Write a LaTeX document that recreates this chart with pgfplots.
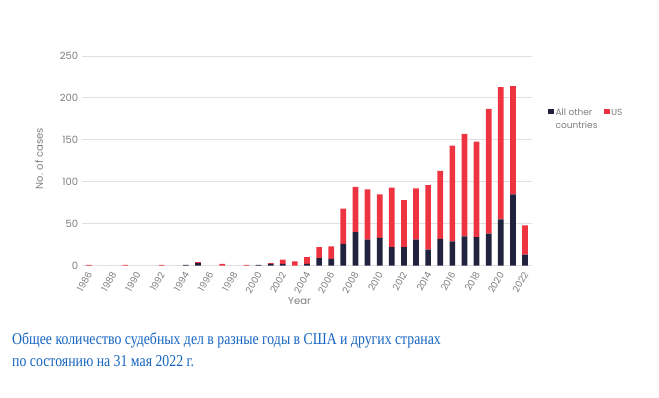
\documentclass[border=0pt]{standalone}
\usepackage{pgfplots}
\pgfplotsset{compat=1.18}
\usepackage{pgfplotstable}
\usepackage{fontspec}
\setmainfont{Poppins}
\newfontfamily\capfont{Liberation Serif}
\definecolor{navy}{HTML}{22223F}
\definecolor{usred}{HTML}{EE3440}
\definecolor{txtgrey}{HTML}{7E7E7E}
\definecolor{gridgrey}{HTML}{E0E0E0}
\definecolor{capblue}{HTML}{1464C0}
\pgfplotstableread{
year other us
1986 0 1
1987 0 0
1988 0 0
1989 0 1
1990 0 0
1991 0 0
1992 0 1
1993 0 0
1994 1 0
1995 3 1
1996 0 0
1997 0 2
1998 0 0
1999 0 1
2000 1 0
2001 2 1
2002 2 5
2003 0 5
2004 2 8
2005 9 13
2006 8 15
2007 26 42
2008 40 54
2009 31 60
2010 33 52
2011 22 71
2012 22 56
2013 31 61
2014 19 77
2015 32 81
2016 29 114
2017 35 122
2018 34 114
2019 38 149
2020 55 158
2021 85 129
2022 13 35
}\datatable
\begin{document}
\begin{tikzpicture}
\path[use as bounding box] (0pt,0pt) rectangle (659pt,397pt);
\begin{axis}[
  at={(81.7pt,131.4pt)}, anchor=south west,
  scale only axis, width=450pt, height=209.6pt,
  ybar stacked, bar width=5.7pt,
  xmin=1985.4, xmax=2022.55, ymin=0, ymax=250,
  axis line style={draw=none},
  tick style={draw=none},
  ytick={0,50,100,150,200,250},
  xtick={1986,1988,...,2022},
  x tick label style={xshift=2.5pt, yshift=-4pt, rotate=60, anchor=east, font=\fontsize{9.3}{10}\selectfont, text=txtgrey, /pgf/number format/1000 sep={}},
  y tick label style={font=\fontsize{10}{11}\selectfont, text=txtgrey},
  /pgf/number format/assume math mode=true,
  ymajorgrids, grid style={gridgrey, line width=0.9pt},
  xlabel={Year}, ylabel={No. of cases},
  every axis x label/.style={at={(axis description cs:0.484,0)}, yshift=-35.8pt, anchor=center, font=\fontsize{10}{11}\selectfont, text=txtgrey},
  every axis y label/.style={at={(axis description cs:0,0.51)}, xshift=-42.7pt, rotate=90, anchor=center, font=\fontsize{10}{11}\selectfont, text=txtgrey},
  legend style={at={(axis description cs:1.030,0.779)}, anchor=north west, draw=none, fill=none, legend columns=2, font=\fontsize{9}{13.5}\selectfont, text=txtgrey, /tikz/every even column/.style={column sep=5pt}, nodes={inner sep=1.5pt}},
  legend cell align=left,
  legend style={cells={anchor=base west}},
  legend image code/.code={\fill[#1] (0pt,1pt) rectangle (5.7pt,6.7pt);},
]
\addplot[fill=navy, draw=none] table[x=year, y=other] {\datatable};
\addlegendentry{\begin{tabular}[t]{@{}l@{}}All other\\countries\end{tabular}}
\addplot[fill=usred, draw=none] table[x=year, y=us] {\datatable};
\addlegendentry{US}
\end{axis}
\node[anchor=base west, inner sep=0pt] at (12pt,52.7pt) {\scalebox{1}[1.2]{\capfont\fontsize{13.8}{17}\selectfont\color{capblue}Общее количество судебных дел в разные годы в США и других странах}};
\node[anchor=base west, inner sep=0pt] at (12pt,31pt) {\scalebox{1}[1.2]{\capfont\fontsize{13.8}{17}\selectfont\color{capblue}по состоянию на 31 мая 2022 г.}};
\end{tikzpicture}
\end{document}
